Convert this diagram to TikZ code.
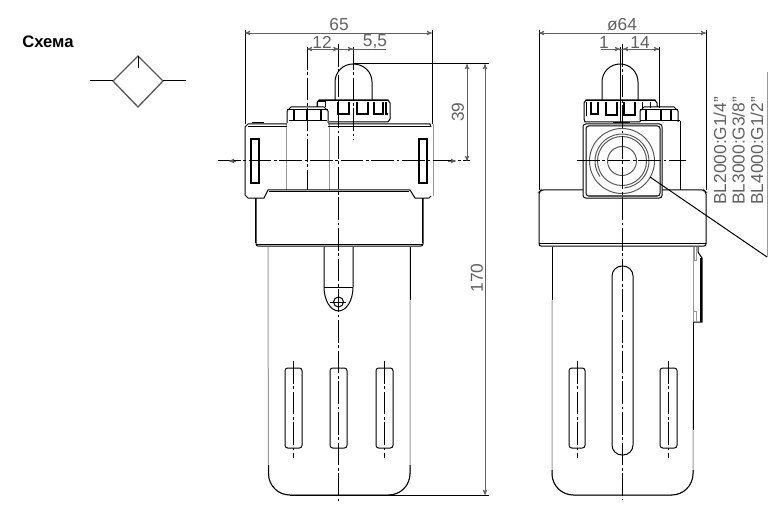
\documentclass[tikz,border=0pt]{standalone}
\usepackage{fontspec}
\setmainfont{Liberation Sans}
\usetikzlibrary{arrows}
\definecolor{edgegrey}{rgb}{0.60,0.60,0.60}
\definecolor{ringgrey}{rgb}{0.35,0.35,0.35}
\definecolor{textgrey}{rgb}{0.38,0.38,0.38}
\tikzset{
  outline/.style={line width=0.75pt,black},
  softline/.style={line width=0.75pt,edgegrey},
  ringline/.style={line width=0.75pt,ringgrey},
  heavy/.style={line width=1.3pt,black},
  axisline/.style={line width=0.75pt,black,dash pattern={on 17pt off 2pt on 2pt off 2pt}},
  dimline/.style={line width=0.5pt,textgrey,<->,>=stealth'},
  extline/.style={line width=0.75pt,black},
  dimtext/.style={inner sep=0pt,text=textgrey,font=\fontsize{13}{15}\selectfont},
  porttext/.style={inner sep=0pt,text=textgrey,rotate=90,anchor=west,font=\fontsize{13}{15}\selectfont}
}
\begin{document}
\begin{tikzpicture}[x=0.75pt,y=0.75pt,yscale=-1,xscale=1]
\useasboundingbox (0,0) rectangle (780,520);

%Symbol
\draw [softline,color=ringgrey,line width=1pt] (138,56) -- (163,81) -- (138,107) -- (113,81) -- cycle ;
\draw [outline] (90,81) -- (113,81) ;
\draw [outline] (163,81) -- (186,81) ;
\draw [outline] (138,56) -- (138,68) ;

%Left view: dome and knurled ring
\draw [outline] (335,100) -- (335,82) .. controls (335,72) and (343,64) .. (353,64) .. controls (364,64) and (372,72) .. (372,82) -- (372,100) ;
\draw [outline] (319,101) -- (389,101) ;
\draw [outline] (317,107) -- (317,103) -- (319,100) -- (388,100) -- (390,103) -- (390,119) -- (388,122) -- (329,122) ;
\draw [heavy] (338,102) -- (338,114) -- (349,114) -- (349,102) ;
\draw [heavy] (357,102) -- (357,114) -- (368,114) -- (368,102) ;
\draw [heavy] (374,102) -- (374,114) -- (383,114) -- (383,102) ;
\draw [heavy] (386,102) -- (386,114) -- (388,114) ;
\draw [outline] (317,107) -- (317,102) -- (325,102) -- (325,107) ;

%Left view: side cap
\draw [outline] (287,123) -- (287,111) -- (291,107) -- (324,107) -- (328,111) -- (328,123) ;
\draw [outline] (287,110) -- (328,110) ;
\draw [outline] (289,121) -- (327,121) ;
\draw [heavy] (294,110) -- (294,121) ;
\draw [heavy] (307,110) -- (307,121) ;
\draw [heavy] (321,110) -- (321,121) ;
\draw [softline] (286,124) -- (286,190) ;
\draw [softline] (329,124) -- (329,190) ;

%Left view: body
\draw [outline] (245,127) -- (245,195) -- (248,198) -- (264,198) -- (268,190) -- (410,190) -- (415,198) -- (429,198) -- (431,196) ;
\draw [softline] (433,124) -- (433,196) ;
\draw [outline] (245,127) -- (248,124) -- (287,124) ;
\draw [outline] (328,124) -- (430,124) -- (431,127) ;
\draw [outline] (248,126.5) -- (287,126.5) ;
\draw [outline] (328,126.5) -- (431,126.5) ;
\draw [outline] (269,192) -- (409,192) ;
\draw [heavy] (252,122.5) -- (264,122.5) ;
\draw [heavy] (251,139) rectangle (259,183) ;
\draw [heavy] (419,139) rectangle (427,183) ;

%Left view: collar
\draw [outline] (255,198) -- (255,243) ;
\draw [outline] (422,198) -- (422,243) ;
\draw [outline,rounded corners=1.5pt] (256,198) -- (256,246) -- (423,246) -- (423,198) ;
\draw [outline] (256,244) -- (423,244) ;

%Left view: bowl
\draw [softline,rounded corners=16pt] (268,247) -- (268.5,495) -- (410,495) -- (410,247) ;
\draw [outline,rounded corners=16pt] (268.5,465) -- (268.5,495) -- (410,495) -- (410,465) ;
\draw [outline] (410,247) -- (410,300) ;

%Left view: tab
\draw [outline] (324,247) -- (324,287) .. controls (324,301) and (331,311) .. (338.5,311) .. controls (346,311) and (353,301) .. (353,287) -- (353,247) ;
\draw [outline] (324,287) -- (353,287) ;
\draw [outline] (338.5,302) circle (5) ;
\draw [outline] (330,302) -- (346,302) ;

%Left view: slots
\draw [outline,rounded corners=2pt] (285,368) rectangle (302,448) ;
\draw [outline,rounded corners=2pt] (330,368) rectangle (347,448) ;
\draw [outline,rounded corners=2pt] (376,368) rectangle (393,448) ;

%Left view: centre lines
\draw [axisline] (338.5,44) -- (338.5,502) ;
\draw [axisline] (218,161) -- (470,161) ;
\draw [axisline] (307,47) -- (307,190) ;
\draw [axisline] (353,47) -- (353,140) ;
\draw [axisline] (293,361) -- (293,458) ;
\draw [axisline] (384,361) -- (384,458) ;

%Right view: dome and knurled ring
\draw [outline] (602,100) -- (602,82) .. controls (602,72) and (610,64) .. (620,64) .. controls (630,64) and (638,72) .. (638,82) -- (638,100) ;
\draw [outline] (586,101) -- (655,101) ;
\draw [outline] (640,122) -- (585,122) -- (584,119) -- (584,103) -- (586,100) -- (655,100) -- (657,103) -- (657,107) ;
\draw [heavy] (591,102) -- (591,114) -- (598,114) -- (598,102) ;
\draw [heavy] (606,102) -- (606,115) -- (617,115) -- (617,102) ;
\draw [heavy] (624,102) -- (624,115) -- (635,115) -- (635,102) ;
\draw [outline] (642,102) -- (642,108) ;
\draw [outline] (650,102) -- (650,108) ;
\draw [outline] (586,102) -- (586,116) ;
\draw [heavy] (613,122.5) -- (630,122.5) ;

%Right view: side cap
\draw [outline] (640,122) -- (640,111) -- (644,107) -- (674,107) -- (678,111) -- (678,122) ;
\draw [outline] (640,110) -- (678,110) ;
\draw [outline] (640,121) -- (680,121) ;
\draw [heavy] (646,110) -- (646,121) ;
\draw [heavy] (661,110) -- (661,121) ;
\draw [heavy] (671,110) -- (671,121) ;
\draw [outline] (680,121) -- (680,190) ;

%Right view: square port
\draw [outline,rounded corners=2pt] (583,124) rectangle (662,198) ;
\draw [outline,rounded corners=2pt] (586,126) rectangle (660,196) ;
\draw [ringline] (622,161) circle (32.5) ;
\draw [ringline] (622,161) ++(85:27) arc (85:-215:27) ;
\draw [ringline] (622,161) circle (24.5) ;
\draw [ringline] (622,161) circle (14.5) ;

%Right view: collar
\draw [outline,rounded corners=1.5pt] (583,190) -- (541,190) -- (539,192) -- (539,246) -- (706,246) -- (706,192) -- (704,190) -- (662,190) ;
\draw [outline] (539,243.5) -- (706,243.5) ;

%Right view: bowl
\draw [outline] (552,247) -- (552,300) ;
\draw [softline,rounded corners=16pt] (552,300) -- (552,495) -- (693,495) -- (693,400) ;
\draw [outline,rounded corners=16pt] (552,470) -- (552,495) -- (693,495) -- (693,470) ;
\draw [outline] (693,322) -- (693,430) ;
\draw [softline] (693,247) -- (693,322) ;

%Right view: clip
\draw [outline] (698,247) -- (698,252) -- (702,258) -- (702,322) -- (694,322) ;
\draw [heavy] (701,258) -- (701,322) ;
\draw [softline] (694,247) -- (694,260) -- (696,260) -- (696,247) ;
\draw [softline] (694,311) -- (696,311) -- (696,322) ;

%Right view: slots
\draw [outline,rounded corners=7.5pt] (612,266) rectangle (633,455) ;
\draw [outline,rounded corners=2pt] (569,368) rectangle (585,448) ;
\draw [outline,rounded corners=2pt] (660,368) rectangle (677,448) ;

%Right view: centre lines
\draw [axisline] (622,44) -- (622,499) ;
\draw [axisline] (577,161) -- (686,161) ;
\draw [axisline] (577,361) -- (577,458) ;
\draw [axisline] (668,361) -- (668,458) ;

%Leader of the port sizes
\draw [outline] (650,177) -- (767,257) ;
\draw [softline] (767,257) -- (767,72) ;

%Extension lines
\draw [extline] (245,30) -- (245,124) ;
\draw [extline] (432,30) -- (432,124) ;
\draw [extline] (353,64) -- (489,64) ;
\draw [extline] (290,495) -- (489,495) ;
\draw [extline] (539,30) -- (539,190) ;
\draw [extline] (706,30) -- (706,190) ;
\draw [extline] (620,47) -- (620,122) ;
\draw [extline] (659,47) -- (659,108) ;

%Dimension lines
\draw [dimline] (245,33) -- (432,33) ;
\draw [dimline,-] (310,49) -- (353,49) ;
\draw [dimline,->] (316,49) -- (307,49) ;
\draw [dimline,->] (344,49) -- (353,49) ;
\draw [dimline,-] (353,49) -- (386,49) ;
\draw [dimline,->] (330,49) -- (338.5,49) ;
\draw [dimline] (467,64) -- (467,161) ;
\draw [dimline] (485,64) -- (485,495) ;
\draw [dimline] (539,33) -- (706,33) ;
\draw [dimline,-] (601,49) -- (659,49) ;
\draw [dimline,->] (611,49) -- (620,49) ;
\draw [dimline,<-] (623,49) -- (632,49) ;
\draw [dimline,->] (650,49) -- (659,49) ;
\draw [dimline,<-] (229,161) -- (236,161) ;
\draw [dimline,->] (448,161) -- (456,161) ;

% Text Node
\node [inner sep=0pt,anchor=west,font=\bfseries\fontsize{12.5}{14}\selectfont] (schemetitle) at (22,42) {Схема};
% Text Node
\node [dimtext] (width65) at (339,25) {65};
% Text Node
\node [dimtext] (offset12) at (322,42) {12};
% Text Node
\node [dimtext] (offset55) at (375,42) {5,5};
% Text Node
\node [dimtext,rotate=90] (height39) at (458,112) {39};
% Text Node
\node [dimtext,rotate=90] (height170) at (477,278) {170};
% Text Node
\node [dimtext] (diam64) at (622,25) {ø64};
% Text Node
\node [dimtext] (offset1) at (604,43) {1};
% Text Node
\node [dimtext] (offset14) at (640,43) {14};
% Text Node
\node [porttext] (portbl2000) at (720,205) {BL2000:G1/4"};
% Text Node
\node [porttext] (portbl3000) at (738.5,205) {BL3000:G3/8"};
% Text Node
\node [porttext] (portbl4000) at (757,205) {BL4000:G1/2"};

\end{tikzpicture}
\end{document}
